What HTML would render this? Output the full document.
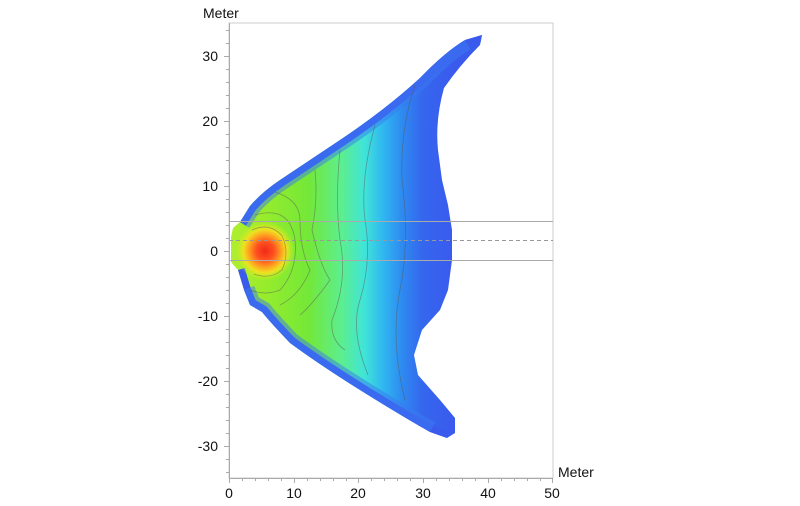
<!DOCTYPE html>
<html><head><meta charset="utf-8"><style>
html,body{margin:0;padding:0;background:#fff;}
svg{display:block;font-family:"Liberation Sans",sans-serif;}
</style></head><body>
<svg width="800" height="506" viewBox="0 0 800 506">
<defs>
<linearGradient id="hg" x1="229" y1="0" x2="455" y2="0" gradientUnits="userSpaceOnUse">
<stop offset="0" stop-color="#b0ee30"/>
<stop offset="0.15" stop-color="#98ec2c"/>
<stop offset="0.35" stop-color="#74e838"/>
<stop offset="0.5" stop-color="#5cee90"/>
<stop offset="0.6" stop-color="#40e4d8"/>
<stop offset="0.68" stop-color="#30b8f0"/>
<stop offset="0.77" stop-color="#2e88f0"/>
<stop offset="0.86" stop-color="#3566ee"/>
<stop offset="1" stop-color="#3a5aee"/>
</linearGradient>
<radialGradient id="hot" cx="265" cy="251" r="30" gradientUnits="userSpaceOnUse">
<stop offset="0" stop-color="#f02a18"/>
<stop offset="0.3" stop-color="#ff5020"/>
<stop offset="0.52" stop-color="#ff9a20"/>
<stop offset="0.72" stop-color="#f0e020"/>
<stop offset="1" stop-color="#c8f020" stop-opacity="0"/>
</radialGradient>
<clipPath id="cp"><path d="M231,237 L233,228 L240,222 L250,206 Q262,192 280,180 Q310,160 340,140 Q385,110 420,78 Q445,52 465,40 L482,35 L480,45 Q460,65 444,88 Q435,120 438,150 L442,180 L448,205 L452,230 L452,260 L448,290 L440,310 L422,330 L414,355 L418,375 L440,400 L455,418 L455,433 L447,438 L430,432 Q400,415 360,390 Q320,365 290,343 Q270,322 262,312 L250,305 L244,290 L238,270 L231,262 Z"/></clipPath>
</defs>
<rect x="229" y="23" width="324" height="455" fill="none" stroke="#ccc" stroke-width="1"/>
<g clip-path="url(#cp)">
<rect x="229" y="30" width="260" height="420" fill="url(#hg)"/>
<path d="M240,222 L250,206 Q262,192 280,180 Q310,160 340,140 Q385,110 420,78 Q445,52 465,40 L482,35 M238,270 L244,290 L250,305 L262,312 Q270,322 290,343 Q320,365 360,390 Q400,415 430,432 L447,438" fill="none" stroke="#3a5aee" stroke-width="14"/>
<path d="M240,222 L250,206 Q262,192 280,180 Q310,160 340,140 Q385,110 420,78 Q445,52 465,40 M244,290 L250,305 L262,312 Q270,322 290,343 Q320,365 360,390 Q400,415 430,432" fill="none" stroke="#3a7af0" stroke-width="22" stroke-opacity="0.5"/>
<ellipse cx="266" cy="252" rx="32" ry="38" fill="url(#hot)"/>
<g fill="none" stroke="#555" stroke-opacity="0.5" stroke-width="0.8">
<path d="M252,230 Q270,222 282,236 Q290,252 282,270 Q270,280 254,274"/>
<path d="M255,215 Q290,205 295,240 Q298,270 280,290 Q265,296 250,290"/>
<path d="M275,192 Q300,200 300,220 Q300,250 310,270 Q300,295 280,305"/>
<path d="M315,170 Q318,200 312,230 Q320,265 330,280 Q312,305 300,315"/>
<path d="M340,150 Q335,200 340,240 Q348,280 332,320 Q330,340 345,350"/>
<path d="M375,125 Q360,180 365,220 Q372,260 360,300 Q350,330 368,375"/>
<path d="M415,85 Q400,130 402,180 Q410,240 400,290 Q390,340 405,400"/>
</g>
</g>
<line x1="229" y1="221.5" x2="553" y2="221.5" stroke="#aaa" stroke-width="1"/>
<line x1="229" y1="240.5" x2="553" y2="240.5" stroke="#999" stroke-width="1" stroke-dasharray="4,3"/>
<line x1="229" y1="260.5" x2="553" y2="260.5" stroke="#aaa" stroke-width="1"/>
<line x1="229.5" y1="23" x2="229.5" y2="478" stroke="#aaa"/>
<line x1="229" y1="478.5" x2="553" y2="478.5" stroke="#aaa"/>
<g stroke="#aaa" stroke-width="1">
<path d="M224,56.5h5M224,121.5h5M224,186.5h5M224,251.5h5M224,316.5h5M224,381.5h5M224,446.5h5"/>
<path d="M226,30.5h3M226,43.5h3M226,69.5h3M226,82.5h3M226,95.5h3M226,108.5h3M226,134.5h3M226,147.5h3M226,160.5h3M226,173.5h3M226,199.5h3M226,212.5h3M226,225.5h3M226,238.5h3M226,264.5h3M226,277.5h3M226,290.5h3M226,303.5h3M226,329.5h3M226,342.5h3M226,355.5h3M226,368.5h3M226,394.5h3M226,407.5h3M226,420.5h3M226,433.5h3M226,459.5h3M226,472.5h3"/>
<path d="M229.5,478v5M294.5,478v5M358.5,478v5M423.5,478v5M488.5,478v5M552.5,478v5"/>
<path d="M242.5,478v3M255.5,478v3M268.5,478v3M281.5,478v3M307.5,478v3M320.5,478v3M333.5,478v3M346.5,478v3M371.5,478v3M384.5,478v3M397.5,478v3M410.5,478v3M436.5,478v3M449.5,478v3M462.5,478v3M475.5,478v3M501.5,478v3M514.5,478v3M527.5,478v3M540.5,478v3"/>
</g>
<g font-size="14" fill="#111" text-anchor="end">
<text x="218" y="61">30</text><text x="218" y="126">20</text><text x="218" y="191">10</text>
<text x="218" y="256">0</text><text x="218" y="321">-10</text><text x="218" y="386">-20</text><text x="218" y="451">-30</text>
</g>
<g font-size="14" fill="#111" text-anchor="middle">
<text x="229" y="498">0</text><text x="294" y="498">10</text><text x="358" y="498">20</text>
<text x="423" y="498">30</text><text x="488" y="498">40</text><text x="552" y="498">50</text>
</g>
<text x="203" y="18" font-size="14" fill="#111">Meter</text>
<text x="558" y="477" font-size="14" fill="#111">Meter</text>
</svg>
</body></html>
